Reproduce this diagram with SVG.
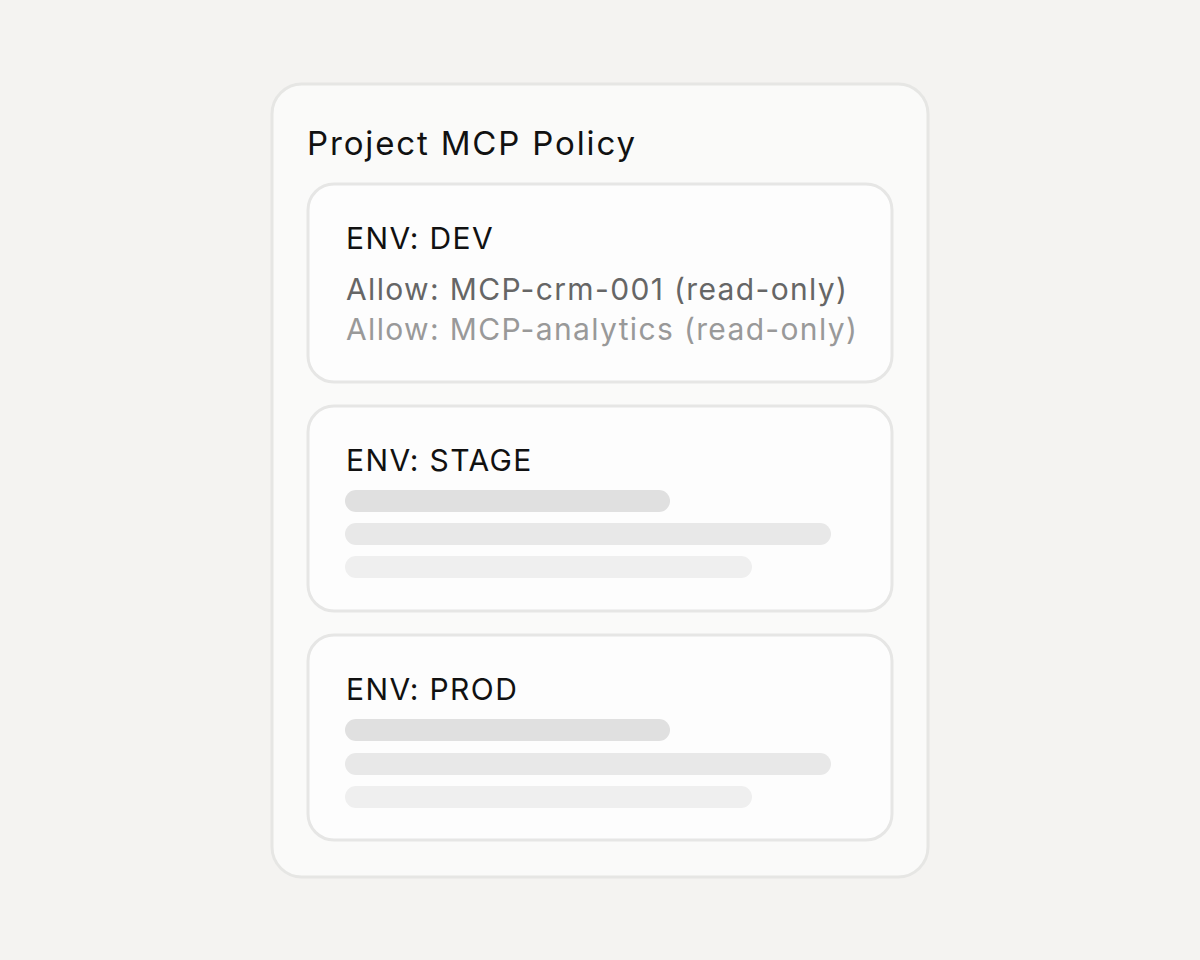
<svg xmlns="http://www.w3.org/2000/svg" width="1200" height="960" viewBox="0 0 1200 960">
<style>
.card{fill:#fdfdfd;stroke:#e6e6e5;stroke-width:3}
.h{font-family:Inter,"Liberation Sans",sans-serif;font-size:30px;fill:#111;letter-spacing:1.4px}
.t{font-family:Inter,"Liberation Sans",sans-serif;font-size:30px;letter-spacing:1.35px}
.b1{fill:#e0e0e0}.b2{fill:#e8e8e8}.b3{fill:#efefef}
</style>
<rect width="1200" height="960" fill="#f4f3f1"/>
<g id="policy">
<rect x="272" y="84" width="656" height="793" rx="30" fill="#fafaf9" stroke="#e6e6e4" stroke-width="3"/>
<text x="307" y="155" font-family="Inter,'Liberation Sans',sans-serif" font-size="33" fill="#111" letter-spacing="1.85">Project MCP Policy</text>
</g>
<g id="dev">
<rect class="card" x="308" y="184" width="584" height="198" rx="26"/>
<text class="h" x="346" y="249">ENV: DEV</text>
<text class="t" x="346" y="300" fill="#666">Allow: MCP-crm-001 (read-only)</text>
<text class="t" x="346" y="340" fill="#999">Allow: MCP-analytics (read-only)</text>
</g>
<g id="stage">
<rect class="card" x="308" y="406" width="584" height="205" rx="26"/>
<text class="h" x="346" y="471">ENV: STAGE</text>
<rect class="b1" x="345" y="490" width="325" height="22" rx="11"/>
<rect class="b2" x="345" y="523" width="486" height="22" rx="11"/>
<rect class="b3" x="345" y="556" width="407" height="22" rx="11"/>
</g>
<g id="prod">
<rect class="card" x="308" y="635" width="584" height="205" rx="26"/>
<text class="h" x="346" y="700">ENV: PROD</text>
<rect class="b1" x="345" y="719" width="325" height="22" rx="11"/>
<rect class="b2" x="345" y="753" width="486" height="22" rx="11"/>
<rect class="b3" x="345" y="786" width="407" height="22" rx="11"/>
</g>
<g id="connectors"/>
</svg>
